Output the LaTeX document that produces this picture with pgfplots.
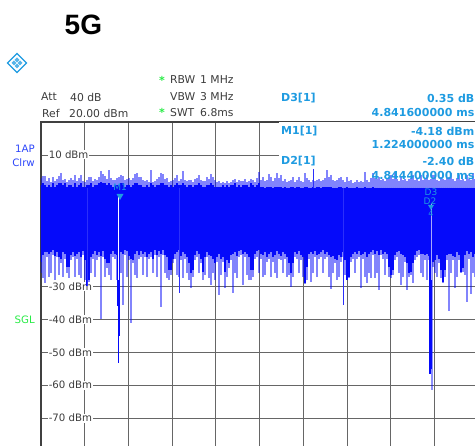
\documentclass[border=0pt]{standalone}
\usepackage{fontspec}
\setmainfont{DejaVu Sans}
\newfontfamily\titlefont{Liberation Sans}
\usepackage{pgfplots}
\usepackage{pgfplotstable}
\pgfplotsset{compat=1.18}

\definecolor{tracecol}{RGB}{5,10,250}
\definecolor{markcol}{RGB}{30,155,225}
\definecolor{labelcol}{RGB}{60,60,60}
\definecolor{sglcol}{RGB}{40,235,70}
\definecolor{apcol}{RGB}{45,70,250}

% x = trace position (437 = full sweep, 6.8 ms), levels in dBm
% columns: light top, solid top, solid bottom, light bottom
\pgfplotstableread{
x lt st sb lb
0 3.0 1.0 -22.6 -26.0
2 3.6 1.6 -20.5 -27.5
4 3.6 1.0 -19.6 -29.0
6 2.1 0.1 -19.6 -21.0
8 3.0 1.0 -20.2 -27.0
10 1.8 0.1 -19.6 -26.0
12 3.3 1.6 -19.0 -20.5
14 2.1 0.1 -20.8 -28.0
16 2.7 1.0 -19.6 -21.0
18 3.6 1.6 -21.0 -26.5
20 4.5 1.6 -21.5 -23.0
22 2.4 1.0 -19.6 -27.0
24 2.7 1.6 -20.2 -21.5
26 1.8 0.1 -24.0 -26.0
28 2.4 1.0 -24.0 -27.5
30 3.0 1.0 -20.5 -22.0
32 2.4 0.1 -19.6 -21.0
34 3.9 1.6 -20.8 -27.0
36 2.1 0.1 -20.2 -21.5
38 3.0 1.0 -19.6 -26.5
40 3.9 1.6 -21.0 -27.5
42 2.1 0.1 -19.3 -20.5
44 1.8 0.1 -22.0 -28.0
46 2.4 1.0 -29.9 -29.9
48 3.3 1.0 -28.0 -28.5
50 3.3 1.6 -21.0 -26.0
52 2.1 0.1 -20.2 -21.5
54 2.7 1.0 -19.3 -27.0
56 2.4 1.0 -20.5 -22.0
58 3.3 1.6 -19.6 -21.0
60 5.1 1.8 -20.8 -40.0
62 4.2 1.6 -19.3 -21.0
64 3.6 1.6 -21.5 -27.0
66 2.7 1.0 -23.0 -24.5
68 5.4 1.6 -23.0 -26.5
70 3.0 1.0 -20.0 -28.0
72 2.4 0.1 -19.3 -21.0
74 2.4 1.0 -20.2 -21.5
76 3.0 1.0 -20.5 -28.0
78 3.3 1.0 -21.0 -22.5
80 3.9 1.6 -19.6 -26.0
82 3.6 1.6 -20.2 -35.7
84 2.4 0.1 -19.0 -20.5
86 2.7 1.0 -19.3 -27.0
88 3.0 1.0 -20.8 -22.0
90 2.4 0.1 -21.5 -41.2
92 3.0 1.0 -22.0 -23.0
94 4.2 1.6 -20.0 -26.5
96 4.5 1.6 -19.3 -27.5
98 3.3 1.0 -20.5 -21.5
100 3.3 1.0 -19.3 -21.0
102 2.4 0.1 -20.2 -26.5
104 2.1 0.1 -19.6 -21.0
106 2.4 1.0 -21.0 -27.0
108 1.8 0.1 -20.2 -21.5
110 5.4 1.6 -19.6 -21.0
112 1.8 1.0 -21.5 -26.0
114 2.1 0.1 -19.0 -20.5
116 2.7 1.0 -20.5 -27.0
118 3.3 1.0 -19.3 -21.0
120 4.5 1.6 -20.2 -36.3
122 4.2 1.6 -19.0 -20.5
124 2.7 1.0 -20.5 -26.0
126 3.0 1.0 -21.0 -27.5
128 1.8 0.1 -25.0 -28.0
130 2.1 1.0 -25.0 -26.5
132 2.4 0.1 -21.5 -23.0
134 3.0 1.0 -20.2 -21.5
136 3.9 1.6 -19.6 -26.5
138 2.1 1.0 -19.0 -27.0
140 2.7 1.0 -20.8 -22.0
142 5.1 1.6 -19.6 -27.5
144 2.4 1.0 -20.2 -21.5
146 2.1 0.1 -21.0 -26.0
148 2.4 1.0 -23.0 -28.0
150 2.4 1.0 -26.0 -30.5
152 1.8 0.1 -25.0 -27.0
154 2.7 1.0 -20.5 -22.0
156 3.0 1.0 -19.3 -21.0
158 3.9 1.6 -20.0 -26.0
160 2.4 1.0 -21.5 -23.0
162 2.1 0.1 -25.5 -28.0
164 2.1 0.1 -21.0 -26.5
166 3.3 1.0 -19.6 -21.0
168 2.7 1.0 -20.5 -27.5
170 4.2 1.6 -20.8 -29.5
172 3.3 1.0 -21.5 -26.0
174 2.4 0.1 -23.0 -28.0
176 1.8 0.1 -21.0 -22.5
178 2.1 0.1 -20.2 -32.7
180 1.5 0.1 -21.5 -26.5
182 1.8 1.0 -21.0 -22.5
184 1.5 0.1 -25.5 -30.5
186 2.1 1.0 -22.0 -27.0
188 1.5 0.1 -23.0 -24.5
190 1.8 1.0 -20.5 -22.0
192 2.4 1.0 -20.0 -32.1
194 2.7 1.6 -19.6 -26.0
196 1.8 0.1 -20.8 -27.5
198 2.4 1.0 -19.3 -21.0
200 2.1 0.1 -19.0 -20.5
202 2.1 1.0 -20.2 -29.5
204 2.7 1.0 -19.6 -21.0
206 1.8 1.0 -20.0 -26.5
208 2.1 0.1 -21.0 -28.0
210 2.7 1.6 -25.0 -28.0
212 2.4 1.0 -25.0 -27.0
214 1.8 0.1 -20.0 -21.5
216 3.0 1.0 -19.3 -21.0
218 4.8 1.6 -19.0 -26.0
220 2.4 0.2 -20.0 -21.5
222 3.3 0.2 -20.5 -27.0
224 2.1 -0.3 -19.6 -26.5
226 2.4 0.2 -21.0 -22.5
228 4.2 0.1 -20.2 -21.5
230 3.3 0.2 -19.6 -27.0
232 2.1 -0.3 -21.0 -22.5
234 3.0 0.2 -20.5 -26.0
236 4.5 0.1 -19.3 -27.5
238 3.0 0.2 -20.0 -21.5
240 3.9 0.1 -20.8 -22.0
242 2.1 -0.3 -19.6 -26.0
244 2.7 0.2 -20.2 -21.5
246 1.8 -0.3 -21.0 -27.0
248 2.1 -0.3 -23.0 -26.5
250 2.4 0.2 -26.0 -30.2
252 3.3 0.1 -23.0 -27.0
254 1.8 -0.3 -19.6 -21.0
256 2.4 0.2 -20.2 -21.5
258 3.3 0.1 -19.3 -26.0
260 2.1 -0.3 -20.5 -22.0
262 1.8 -0.3 -21.0 -27.0
264 4.5 0.1 -29.0 -29.3
266 3.0 0.2 -24.0 -28.0
268 2.4 -0.3 -20.2 -21.5
270 1.8 -0.3 -19.6 -28.7
272 2.4 0.2 -20.0 -26.0
274 2.1 -0.3 -19.3 -21.0
276 2.4 0.2 -20.5 -27.0
278 2.7 0.2 -20.0 -21.5
280 2.1 -0.3 -19.6 -21.0
282 2.4 0.2 -19.0 -26.0
284 3.0 0.2 -20.2 -21.5
286 5.4 0.1 -19.6 -21.0
288 3.3 0.2 -20.5 -27.0
290 3.9 0.1 -21.0 -30.8
292 2.4 -0.3 -20.8 -26.0
294 2.1 -0.5 -21.5 -23.0
296 2.4 -0.3 -22.0 -28.0
298 3.0 0.2 -20.5 -27.0
300 3.3 0.2 -21.0 -22.5
302 2.4 -0.3 -19.6 -21.0
304 1.8 -0.5 -22.0 -26.5
306 3.3 0.2 -28.0 -28.0
308 2.1 -0.3 -27.0 -27.5
310 2.4 -0.3 -21.0 -22.5
312 1.5 -0.5 -20.2 -21.5
314 1.8 -0.5 -19.6 -26.0
316 2.4 0.2 -20.0 -21.5
318 1.8 -0.5 -19.3 -21.0
320 2.1 -0.3 -20.5 -30.5
322 1.8 -0.3 -20.0 -21.5
324 4.8 0.1 -19.6 -27.0
326 2.4 -0.3 -21.0 -29.0
328 1.8 -0.5 -20.2 -26.0
330 3.0 -0.3 -19.6 -27.5
332 4.5 0.2 -19.0 -20.5
334 3.0 -0.5 -20.0 -27.5
336 2.7 -0.9 -19.3 -26.0
338 3.3 -0.5 -20.5 -31.1
340 2.4 -0.9 -19.0 -20.5
342 2.7 -0.5 -20.2 -21.5
344 2.1 -0.9 -19.6 -26.5
346 2.7 -0.5 -20.0 -21.5
348 3.3 -0.5 -24.0 -27.0
350 3.9 -0.3 -26.5 -27.5
352 2.7 -0.9 -25.0 -26.5
354 4.5 -0.3 -20.5 -22.0
356 2.7 -0.9 -19.6 -21.0
358 2.1 -0.9 -19.3 -26.0
360 3.3 -0.5 -20.0 -29.5
362 2.4 -0.9 -20.5 -27.0
364 2.7 -0.5 -21.0 -22.5
366 2.1 -0.9 -23.0 -31.1
368 2.7 -0.5 -26.0 -27.0
370 3.0 -0.9 -25.5 -26.5
372 3.9 -0.5 -23.0 -29.0
374 2.4 -0.9 -20.5 -22.0
376 3.0 -0.5 -19.3 -21.0
378 2.1 -0.9 -19.0 -20.5
380 3.9 -0.5 -20.0 -26.0
382 2.4 -0.9 -20.2 -27.0
384 2.7 -0.5 -20.5 -22.0
386 3.9 -0.5 -20.0 -28.0
388 2.4 -0.9 -20.8 -22.0
390 2.7 -0.5 -21.0 -22.5
392 3.9 -0.5 -22.5 -24.0
394 3.9 -0.5 -22.0 -26.0
396 2.4 -0.9 -20.5 -27.0
398 2.1 -0.9 -21.5 -23.0
400 3.3 -0.5 -25.0 -27.5
402 2.7 -0.9 -28.5 -29.0
404 2.4 -0.9 -25.0 -27.0
406 3.0 -0.5 -20.5 -22.0
408 3.3 -0.5 -20.0 -37.3
410 4.5 -0.3 -20.2 -26.0
412 2.7 -0.9 -20.8 -22.0
414 2.1 -0.9 -21.0 -30.5
416 3.0 -0.5 -19.6 -27.0
418 3.9 -0.5 -20.5 -22.0
420 2.4 -0.9 -25.7 -26.0
422 2.7 -0.5 -24.5 -25.5
424 2.1 -0.9 -20.5 -26.5
426 3.9 -0.5 -19.3 -34.8
428 2.7 -0.9 -20.0 -21.5
430 2.4 -0.9 -19.6 -32.4
432 4.5 -0.5 -21.0 -26.0
434 2.7 -0.9 -20.2 -27.0
436 2.4 -0.9 -20.5 -22.0
}\tracetab

% narrow dark spikes seen apart from the band
\pgfplotstableread{
x y
46 -29.9
138 -32.1
302 -35.7
272 5.7
}\darkspikes

% the two dips at the markers
\pgfplotstableread{
x y
76.5 -36.0
77.5 -53.4
78.5 -45.0
389 -56.5
390 -55.0
}\dips

\begin{document}
\begin{tikzpicture}[x=1pt,y=1pt]
\path[use as bounding box,clip] (0,0) rectangle (475,446);
\begin{axis}[
    at={(41pt,-5pt)},
    anchor=south west,
    scale only axis,
    width=437pt,
    height=329pt,
    xmin=0, xmax=437,
    ymin=-80, ymax=20,
    xtick={43.7,87.4,131.1,174.8,218.5,262.2,305.9,349.6,393.3},
    xticklabels={},
    ytick={-70,-60,-50,-40,-30,10},
    yticklabels={-70 dBm,-60 dBm,-50 dBm,-40 dBm,-30 dBm,10 dBm},
    yticklabel style={anchor=west,xshift=7pt,fill=white,inner sep=0.6pt,
        text=labelcol,font=\fontsize{10.2}{12}\selectfont},
    major tick length=0pt,
    grid=major,
    grid style={black!60,line width=0.7pt},
    axis line style={black!75,line width=1.1pt},
]
% text box of the marker table hides the grid
\fill[white] (axis cs:238,20) rectangle (axis cs:437,-8);
\addplot[ycomb,tracecol,opacity=0.5,line width=1.4pt] table[x=x,y=lt] {\tracetab};
\addplot[ycomb,tracecol,opacity=0.5,line width=1.4pt] table[x=x,y=lb] {\tracetab};
\addplot[ycomb,tracecol,line width=2pt] table[x=x,y=st] {\tracetab};
\addplot[ycomb,tracecol,line width=2pt] table[x=x,y=sb] {\tracetab};
\addplot[ycomb,tracecol!85!white,line width=0.9pt] table[x=x,y=y] {\darkspikes};
\addplot[ycomb,tracecol,line width=1.3pt] table[x=x,y=y] {\dips};
\addplot[ycomb,tracecol,opacity=0.45,line width=1.2pt] coordinates {(391,-61.6)};
\draw[white,line width=1.4pt] (axis cs:77.5,-2.8) -- (axis cs:77.5,-28);
\draw[white!65!tracecol,line width=1.3pt] (axis cs:390.5,-5) -- (axis cs:390.5,-28);
\end{axis}

% everything below is placed in image pixels, y going down
\begin{scope}[shift={(0,446)},y=-1pt]
\node[anchor=west,inner sep=0,font=\titlefont\bfseries\fontsize{28}{30}\selectfont] at (64.5,25) {5G};

% logo
\draw[markcol,line width=1.3pt] (17,53.5) -- (26.5,63) -- (17,72.5) -- (7.5,63) -- cycle;
\fill[markcol!75] (17,57.5) -- (22.5,63) -- (17,68.5) -- (11.5,63) -- cycle;
\draw[white,line width=0.6pt] (14,60) -- (20,66) (20,60) -- (14,66);

\tikzset{info/.style={anchor=west,inner sep=0,text=labelcol,font=\fontsize{10.8}{12}\selectfont},
    mtxt/.style={inner sep=0,text=markcol,font=\bfseries\fontsize{11}{12}\selectfont},
    stxt/.style={inner sep=0,text=sglcol,font=\bfseries\fontsize{11}{12}\selectfont}}
\node[info] at (41,97) {Att};
\node[info] at (70,97) {40 dB};
\node[info] at (42,113) {Ref};
\node[info] at (69,113) {20.00 dBm};
\node[stxt] at (162,80) {*};
\node[info] at (170,80) {RBW};
\node[info] at (200,80) {1 MHz};
\node[info] at (170,97) {VBW};
\node[info] at (200,97) {3 MHz};
\node[stxt] at (162,112) {*};
\node[info] at (170,113) {SWT};
\node[info] at (200,113) {6.8ms};

\node[mtxt,anchor=west] at (281,98) {D3[1]};
\node[mtxt,anchor=east] at (474.5,98) {0.35 dB};
\node[mtxt,anchor=east] at (474.5,113) {4.841600000 ms};
\node[mtxt,anchor=west] at (281,131) {M1[1]};
\node[mtxt,anchor=east] at (474.5,131) {-4.18 dBm};
\node[mtxt,anchor=east] at (474.5,145) {1.224000000 ms};
\node[mtxt,anchor=west] at (281,161) {D2[1]};
\node[mtxt,anchor=east] at (474.5,161) {-2.40 dB};
\node[mtxt,anchor=east] at (474.5,176) {4.844400000 ms};

\node[inner sep=0,text=apcol,font=\fontsize{10.2}{12}\selectfont,anchor=east] at (35,149) {1AP};
\node[inner sep=0,text=apcol,font=\fontsize{10.2}{12}\selectfont,anchor=east] at (35,163) {Clrw};
\node[inner sep=0,text=sglcol,font=\fontsize{10.2}{12}\selectfont,anchor=east] at (35,320) {SGL};

% marker flags on the trace
\node[inner sep=0,text=markcol,font=\fontsize{9}{10}\selectfont] at (120,187) {M1};
\fill[markcol] (116.5,194) -- (123.5,194) -- (120,200) -- cycle;
\node[inner sep=0,text=markcol,font=\fontsize{9}{10}\selectfont] at (431,192) {D3};
\node[inner sep=0,text=markcol,font=\fontsize{9}{10}\selectfont] at (430,201) {D2};
\fill[markcol] (428,205) -- (434,205) -- (431,210) -- cycle;
\node[inner sep=0,text=markcol,font=\fontsize{8}{9}\selectfont] at (431,214) {4};
\end{scope}
\end{tikzpicture}
\end{document}
